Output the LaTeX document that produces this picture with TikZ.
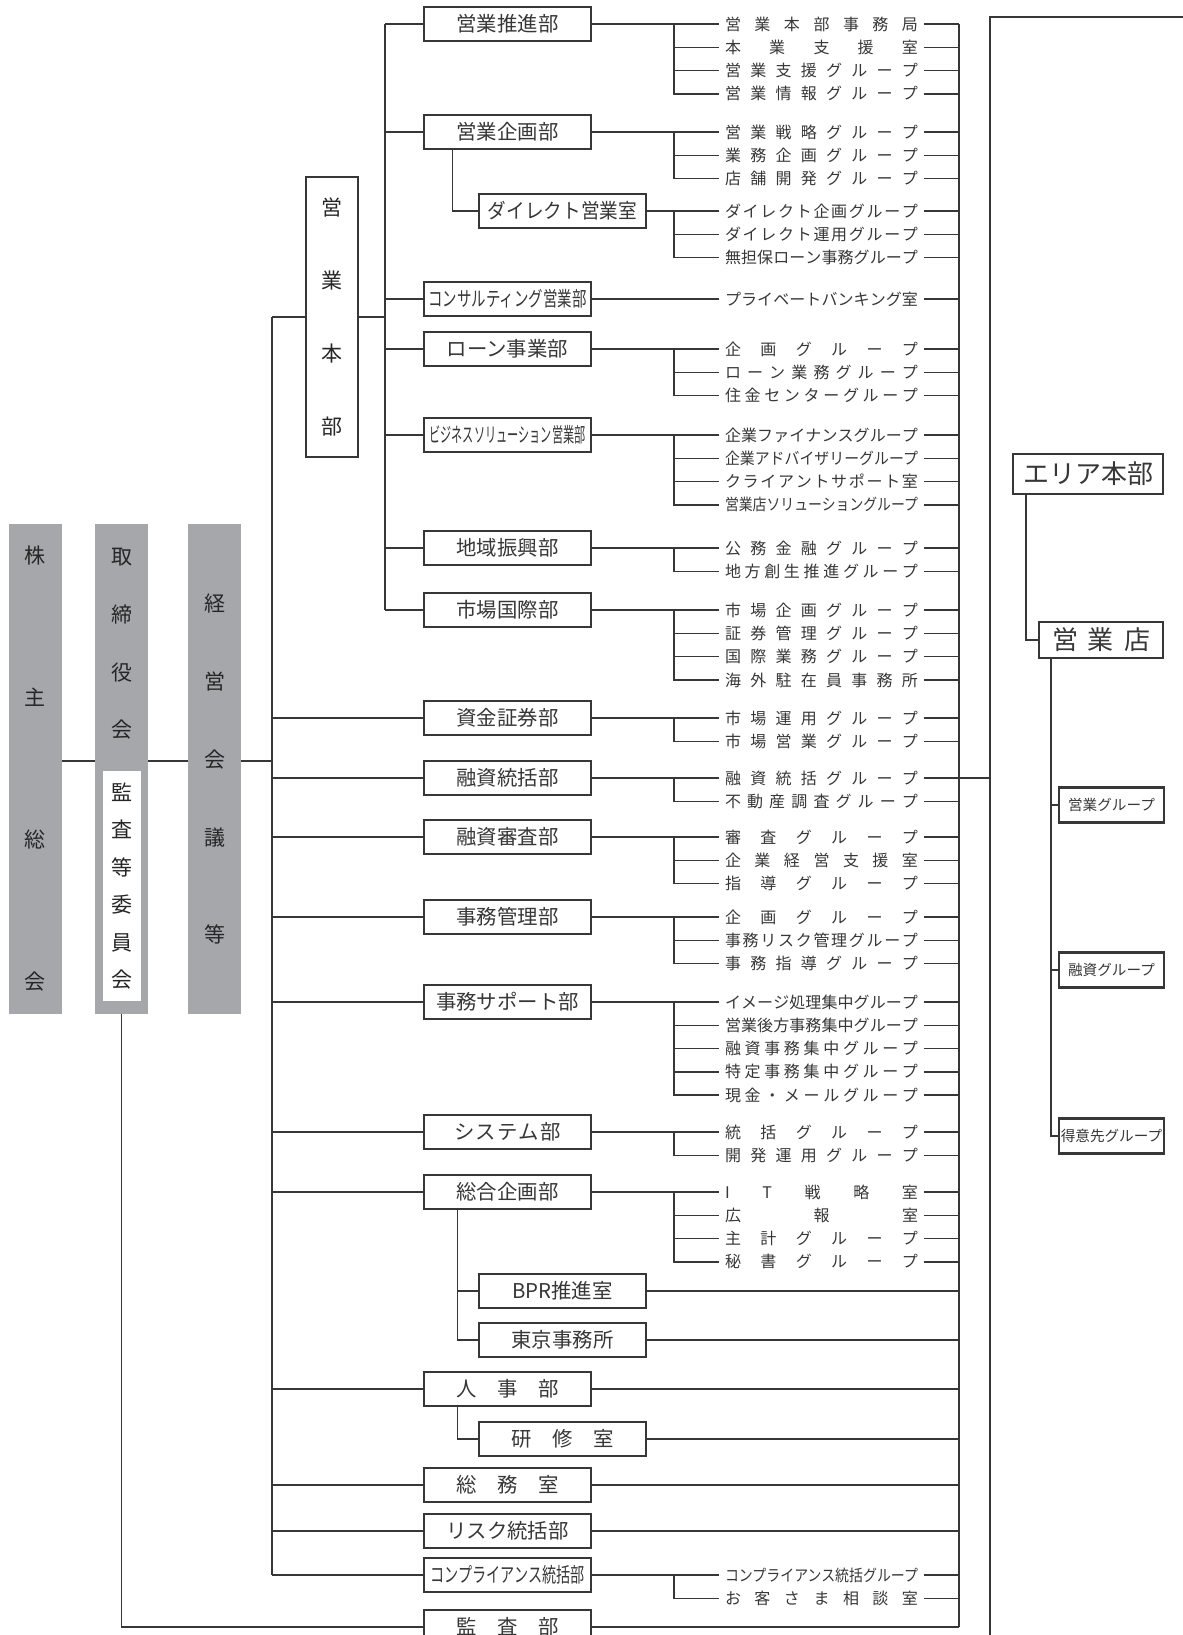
\documentclass[tikz,border=0pt]{standalone}
\usepackage{fontspec}
\setmainfont{Noto Sans CJK JP}
\usepackage{graphicx}
\usetikzlibrary{positioning, calc}
\definecolor{colgray}{RGB}{166,167,171}
\definecolor{lncol}{RGB}{55,55,55}
\newlength\grpw \setlength\grpw{96.5pt}
\newsavebox\fitbox
\makeatletter
% squeeze a label into #1, or spread its letters over #1
\newcommand\fit[2]{\edef\fit@txt{#2}\sbox\fitbox{#2}%
  \ifdim\wd\fitbox>#1\relax\resizebox{#1}{\height}{#2}%
  \else\hbox to #1{\expandafter\@tfor\expandafter\@ch\expandafter:\expandafter=\fit@txt\do{\@ch\hfill}\unskip}\fi}
\makeatother
% groups of a department: #1 dept node, #2 first y, #3 labels
\newcommand\grps[3]{%
  \foreach \lbl [count=\i] in {#3} {
    \node[grp] (#1g\i) at (821.5,{#2+23.3*(\i-1)}) {\fit{\grpw}{\lbl}};
    \draw[ln] (#1g\i.east) -- (#1g\i.east -| rbus);
    \ifnum\i>1 \draw[ln] (#1g1.west -| gbus) |- (#1g\i.west);\fi
  }%
  \draw[ln] (#1.east) -- (#1g1.west);
}

\begin{document}
\begin{tikzpicture}[x=0.5pt, y=-0.5pt,
  ln/.style={draw=lncol, line width=0.75pt},
  dept/.style={draw=lncol, line width=1pt, fill=white, minimum width=83.5pt, minimum height=17pt, inner sep=0pt, text=lncol, font=\fontsize{10.2}{12}\selectfont},
  grp/.style={inner xsep=3pt, inner ysep=1pt, text=lncol, font=\fontsize{8}{10}\selectfont},
  col/.style={fill=colgray, minimum width=26.5pt, minimum height=245pt, inner sep=0pt, align=center, text=black!85},
  abox/.style={draw=lncol, line width=1.1pt, fill=white, inner sep=0pt, text=lncol},
  sbox/.style={abox, minimum width=52.5pt, minimum height=17.5pt, font=\fontsize{7.3}{9}\selectfont}]
  \useasboundingbox (0,0) rectangle (1183,1635);
  \coordinate (hl) at (0,761);
  \coordinate (mbus) at (272,0);
  \coordinate (hbus) at (385,0);
  \coordinate (gbus) at (674,0);
  \coordinate (rbus) at (959,0);
  \coordinate (boxl) at (990,0);

  % meetings on the left
  \node[col, font=\fontsize{10.5}{71}\selectfont] (kabu) at (35,769) {株\\主\\総\\会};
  \node[col] (tori) at (121.5,769) {};
  \node[align=center, inner sep=0pt, text=black!85, font=\fontsize{10.5}{28.85}\selectfont] (toril) at (121.5,644) {取\\締\\役\\会};
  \node[fill=white, minimum width=19pt, minimum height=115pt, inner sep=0pt, align=center, text=black!85, font=\fontsize{10.5}{18.7}\selectfont] (iin) at (122,886) {監\\査\\等\\委\\員\\会};
  \node[col, font=\fontsize{10.5}{39}\selectfont] (keiei) at (214.5,769) {経\\営\\会\\議\\[9.5pt]等};
  \node[draw=lncol, line width=0.6pt, minimum width=26pt, minimum height=140pt, inner sep=0pt, align=center, text=black!85, font=\fontsize{10.5}{36.5}\selectfont] (honbu) at (332,317) {営\\業\\本\\部};

  % departments
  \node[dept] (ts) at (507.5,24) {営業推進部};
  \node[dept] (tk) at (507.5,132) {営業企画部};
  \node[dept] (dr) at (562.5,211) {\fit{74.5pt}{ダイレクト営業室}};
  \node[dept] (cs) at (507.5,299) {\fit{79pt}{コンサルティング営業部}};
  \node[dept] (lo) at (507.5,349) {ローン事業部};
  \node[dept] (bs) at (507.5,435) {\fit{78pt}{ビジネスソリューション営業部}};
  \node[dept] (ch) at (507.5,548) {地域振興部};
  \node[dept] (sk) at (507.5,610) {市場国際部};
  \node[dept] (sh) at (507.5,718) {資金証券部};
  \node[dept] (yt) at (507.5,778) {融資統括部};
  \node[dept] (ys) at (507.5,837) {融資審査部};
  \node[dept] (jk) at (507.5,917) {事務管理部};
  \node[dept] (js) at (507.5,1002) {事務サポート部};
  \node[dept] (sy) at (507.5,1132) {\fit{53pt}{システム部}};
  \node[dept] (sg) at (507.5,1192) {総合企画部};
  \node[dept] (bpr) at (562.5,1291) {BPR推進室};
  \node[dept] (tky) at (562.5,1340) {東京事務所};
  \node[dept] (jj) at (507.5,1389) {\fit{51.5pt}{人事部}};
  \node[dept] (ks) at (562.5,1439) {\fit{51.5pt}{研修室}};
  \node[dept] (sm) at (507.5,1485) {\fit{51.5pt}{総務室}};
  \node[dept] (rs) at (507.5,1531) {リスク統括部};
  \node[dept] (cp) at (507.5,1575) {\fit{77pt}{コンプライアンス統括部}};
  \node[dept] (ka) at (507.5,1627) {\fit{51.5pt}{監査部}};

  % groups
  \grps{ts}{24}{営業本部事務局,本業支援室,営業支援グループ,営業情報グループ}
  \grps{tk}{132}{営業戦略グループ,業務企画グループ,店舗開発グループ}
  \grps{dr}{211}{ダイレクト企画グループ,ダイレクト運用グループ,無担保ローン事務グループ}
  \grps{cs}{299}{プライベートバンキング室}
  \grps{lo}{349}{企画グループ,ローン業務グループ,住金センターグループ}
  \grps{bs}{435}{企業ファイナンスグループ,企業アドバイザリーグループ,クライアントサポート室,営業店ソリューショングループ}
  \grps{ch}{548}{公務金融グループ,地方創生推進グループ}
  \grps{sk}{610}{市場企画グループ,証券管理グループ,国際業務グループ,海外駐在員事務所}
  \grps{sh}{718}{市場運用グループ,市場営業グループ}
  \grps{yt}{778}{融資統括グループ,不動産調査グループ}
  \grps{ys}{837}{審査グループ,企業経営支援室,指導グループ}
  \grps{jk}{917}{企画グループ,事務リスク管理グループ,事務指導グループ}
  \grps{js}{1002}{イメージ処理集中グループ,営業後方事務集中グループ,融資事務集中グループ,特定事務集中グループ,現金・メールグループ}
  \grps{sy}{1132}{統括グループ,開発運用グループ}
  \grps{sg}{1192}{IT戦略室,広報室,主計グループ,秘書グループ}
  \grps{cp}{1575}{コンプライアンス統括グループ,お客さま相談室}

  % connectors
  \draw[ln] (kabu.east |- hl) -- (tori.west |- hl) (tori.east |- hl) -- (keiei.west |- hl) (keiei.east |- hl) -- (mbus |- hl);
  \draw[ln] (mbus |- honbu.west) -- (mbus |- cp.west);
  \foreach \n in {honbu,sh,yt,ys,jk,js,sy,sg,jj,sm,rs,cp}
    \draw[ln] (mbus |- \n.west) -- (\n.west);
  \draw[ln] (tori.south) |- (ka.west);
  \draw[ln] (honbu.east) -- (honbu.east -| hbus);
  \draw[ln] (hbus |- ts.west) -- (hbus |- sk.west);
  \foreach \n in {ts,tk,cs,lo,bs,ch,sk}
    \draw[ln] (hbus |- \n.west) -- (\n.west);
  \coordinate (tkb) at ([xshift=-27.5pt]tk.south);
  \draw[ln] (tkb) |- (dr.west);
  \coordinate (sgb) at ([xshift=-25pt]sg.south);
  \draw[ln] (sgb) |- (tky.west) (sgb |- bpr.west) -- (bpr.west);
  \coordinate (jjb) at ([xshift=-25pt]jj.south);
  \draw[ln] (jjb) |- (ks.west);
  \foreach \n in {bpr,tky,jj,ks,sm,rs,ka}
    \draw[ln] (\n.east) -- (\n.east -| rbus);
  \draw[ln] (tsg1.east -| rbus) -- (ka.east -| rbus);
  \draw[ln] (ytg1.east -| rbus) -- (ytg1.east -| boxl);

  % branch area
  \draw[draw=lncol, line width=1.2pt] (990,1640) -- (990,17) -- (1190,17);
  \node[abox, minimum width=75pt, minimum height=20pt, font=\fontsize{13}{15}\selectfont] (area) at (1088,474) {エリア本部};
  \node[abox, minimum width=62pt, minimum height=18pt, font=\fontsize{13}{15}\selectfont] (shop) at (1101,640) {\fit{49pt}{営業店}};
  \node[sbox] (sgr1) at (1111.5,805) {営業グループ};
  \node[sbox] (sgr2) at (1111.5,970) {融資グループ};
  \node[sbox] (sgr3) at (1111.5,1136) {得意先グループ};
  \coordinate (areab) at ([xshift=7pt]area.south west);
  \draw[ln] (areab) |- (shop.west);
  \coordinate (shopb) at ([xshift=6.5pt]shop.south west);
  \draw[ln] (shopb) |- (sgr3.west) (shopb |- sgr1.west) -- (sgr1.west) (shopb |- sgr2.west) -- (sgr2.west);
\end{tikzpicture}
\end{document}
